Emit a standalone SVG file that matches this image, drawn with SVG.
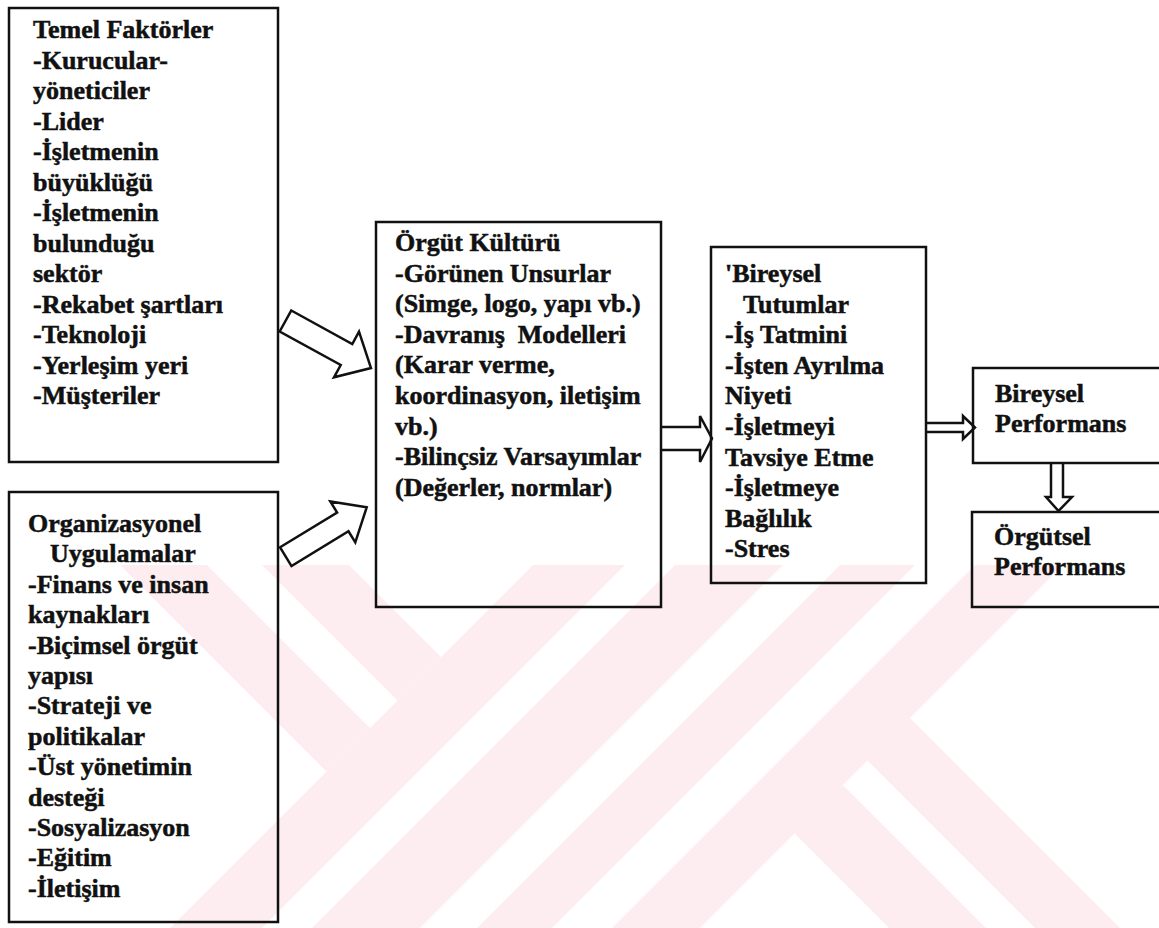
<svg xmlns="http://www.w3.org/2000/svg" width="1159" height="928" viewBox="0 0 1159 928">
<style>
.box{fill:none;stroke:#111;stroke-width:2.5}
.arr{fill:none;stroke:#111;stroke-width:2.5;stroke-linejoin:miter}
text{font-family:"Liberation Serif","Times New Roman",serif;font-weight:bold;font-size:26px;fill:#111;stroke:#111;stroke-width:0.5}
.wm{fill:#fdedf0}
</style>
<defs>
<clipPath id="wmclip"><rect x="0" y="565" width="1159" height="363"/></clipPath>
</defs>
<rect width="1159" height="928" fill="#fff"/>
<g id="watermark" class="wm" clip-path="url(#wmclip)">
<polygon points="441,657 397.5,700.5 -151.5,151.5 -108,108"/>
<polygon points="370,728 326.5,771.5 -222.5,222.5 -179,179"/>
<polygon points="1149,-51 1195,-5 -5,1195 -51,1149"/>
<polygon points="1220,20 1274,74 74,1274 20,1220"/>
<polygon points="1302.5,102.5 1340,140 140,1340 102.5,1302.5"/>
<polygon points="1370,170 1414,214 214,1414 170,1370"/>
<polygon points="910,718 867.5,760.5 1353.5,1246.5 1396,1204"/>
<polygon points="843,785 794.5,833.5 1280.5,1319.5 1329,1271"/>
</g>
<g id="connectors">
<polygon class="arr" points="291.3,310.5 352.3,344 359,331.7 371,368 334,377.3 340.7,365 279.7,331.5"/>
<polygon class="arr" points="280.1,547.3 337.1,512.5 330.3,501.4 366.7,507.3 355.3,542.4 348.5,531.3 291.5,566.1"/>
<polyline class="arr" points="661,427 700,427 700,416 712,438.5 700,462 700,450 661,450"/>
<polyline class="arr" points="926,423 963,423 963,416 975,427.5 963,439 963,432 926,432"/>
<polyline class="arr" points="1051,463 1051,497 1046,497 1058.5,511 1072,497 1063,497 1063,463"/>
</g>
<g id="node-temel">
<rect class="box" x="9" y="8" width="269" height="454"/>
<text><tspan x="33" y="38">Temel Faktörler</tspan><tspan x="33" y="68.5">-Kurucular-</tspan><tspan x="33" y="99">yöneticiler</tspan><tspan x="33" y="129.5">-Lider</tspan><tspan x="33" y="160">-İşletmenin</tspan><tspan x="33" y="190.5">büyüklüğü</tspan><tspan x="33" y="221">-İşletmenin</tspan><tspan x="33" y="251.5">bulunduğu</tspan><tspan x="33" y="282">sektör</tspan><tspan x="33" y="312.5">-Rekabet şartları</tspan><tspan x="33" y="343">-Teknoloji</tspan><tspan x="33" y="373.5">-Yerleşim yeri</tspan><tspan x="33" y="404">-Müşteriler</tspan></text>
</g>
<g id="node-organizasyonel">
<rect class="box" x="9" y="492" width="269" height="430"/>
<text><tspan x="28" y="532">Organizasyonel</tspan><tspan x="50" y="562.4">Uygulamalar</tspan><tspan x="28" y="592.8">-Finans ve insan</tspan><tspan x="28" y="623.2">kaynakları</tspan><tspan x="28" y="653.6">-Biçimsel örgüt</tspan><tspan x="28" y="684">yapısı</tspan><tspan x="28" y="714.4">-Strateji ve</tspan><tspan x="28" y="744.8">politikalar</tspan><tspan x="28" y="775.2">-Üst yönetimin</tspan><tspan x="28" y="805.6">desteği</tspan><tspan x="28" y="836">-Sosyalizasyon</tspan><tspan x="28" y="866.4">-Eğitim</tspan><tspan x="28" y="896.8">-İletişim</tspan></text>
</g>
<g id="node-orgut-kulturu">
<rect class="box" x="376" y="222" width="285" height="385"/>
<text style="white-space:pre"><tspan x="395" y="251">Örgüt Kültürü</tspan><tspan x="395" y="281.6">-Görünen Unsurlar</tspan><tspan x="395" y="312.2">(Simge, logo, yapı vb.)</tspan><tspan x="395" y="342.8">-Davranış  Modelleri</tspan><tspan x="395" y="373.4">(Karar verme,</tspan><tspan x="395" y="404">koordinasyon, iletişim</tspan><tspan x="395" y="434.6">vb.)</tspan><tspan x="395" y="465.2">-Bilinçsiz Varsayımlar</tspan><tspan x="395" y="495.8">(Değerler, normlar)</tspan></text>
</g>
<g id="node-bireysel-tutumlar">
<rect class="box" x="711" y="247" width="215" height="336"/>
<text><tspan x="725" y="282">'Bireysel</tspan><tspan x="743" y="312.6">Tutumlar</tspan><tspan x="725" y="343.2">-İş Tatmini</tspan><tspan x="725" y="373.8">-İşten Ayrılma</tspan><tspan x="725" y="404.4">Niyeti</tspan><tspan x="725" y="435">-İşletmeyi</tspan><tspan x="725" y="465.6">Tavsiye Etme</tspan><tspan x="725" y="496.2">-İşletmeye</tspan><tspan x="725" y="526.8">Bağlılık</tspan><tspan x="725" y="557.4">-Stres</tspan></text>
</g>
<g id="node-bireysel-performans">
<rect class="box" x="973" y="368" width="200" height="95"/>
<text><tspan x="995" y="402">Bireysel</tspan><tspan x="995" y="432">Performans</tspan></text>
</g>
<g id="node-orgutsel-performans">
<rect class="box" x="972" y="512" width="200" height="95"/>
<text><tspan x="994" y="545">Örgütsel</tspan><tspan x="994" y="575">Performans</tspan></text>
</g>
</svg>
